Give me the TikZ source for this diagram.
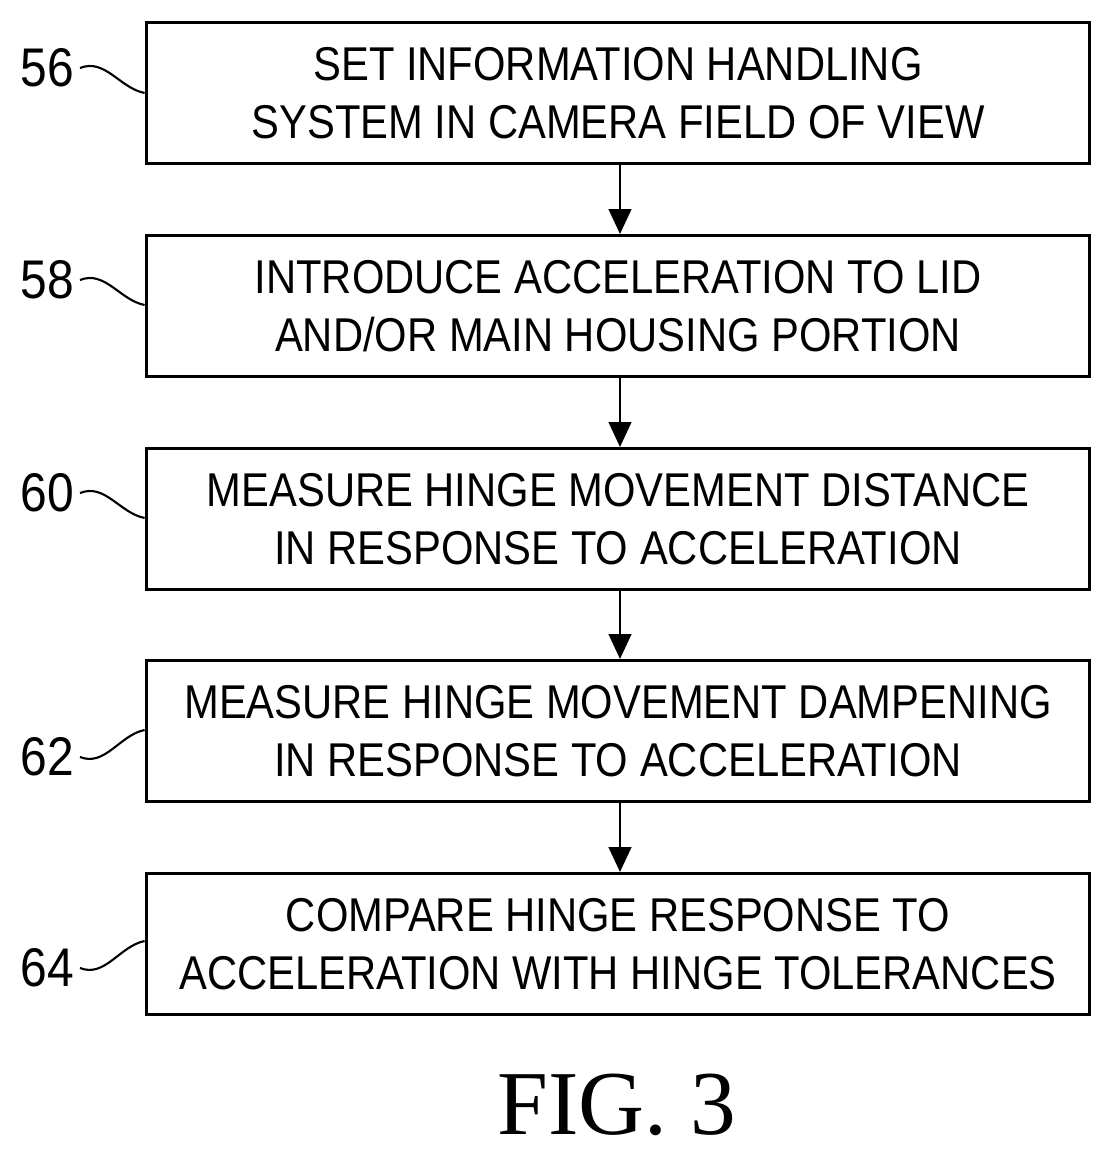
\documentclass[tikz,border=0pt]{standalone}
\usepackage{fontspec}
\setmainfont{Liberation Sans}
\newfontfamily\boxfont[FakeStretch=0.88]{Liberation Sans}
\newfontfamily\figfont{Liberation Serif}
\usetikzlibrary{arrows.meta,positioning}
\tikzset{
    stepbox/.style={draw, line width=1.7pt, minimum width=18.88cm, minimum height=2.82cm,
        align=center, font=\boxfont\fontsize{27}{33}\selectfont, inner sep=0pt},
    flow/.style={-{Triangle[length=0.5cm,width=0.45cm]}, line width=1.7pt},
    lead/.style={line width=1.2pt},
    num/.style={font=\boxfont\fontsize{31}{31}\selectfont, anchor=east}
}
\begin{document}
\begin{tikzpicture}[x=0.02cm,y=-0.02cm]
    \useasboundingbox (0,0) rectangle (1115,1154);
    % Draw steps
    \node[stepbox] (s56) at (618,93) {SET INFORMATION HANDLING\\SYSTEM IN CAMERA FIELD OF VIEW};
    \node[stepbox] (s58) at (618,306) {INTRODUCE ACCELERATION TO LID\\AND/OR MAIN HOUSING PORTION};
    \node[stepbox] (s60) at (618,519) {MEASURE HINGE MOVEMENT DISTANCE\\IN RESPONSE TO ACCELERATION};
    \node[stepbox] (s62) at (618,731) {MEASURE HINGE MOVEMENT DAMPENING\\IN RESPONSE TO ACCELERATION};
    \node[stepbox] (s64) at (618,944) {COMPARE HINGE RESPONSE TO\\ACCELERATION WITH HINGE TOLERANCES};

    % Arrows between steps
    \foreach \a/\b in {s56/s58, s58/s60, s60/s62, s62/s64} {
        \draw[flow] (\a.south -| 620,0) -- (\b.north -| 620,0);
    }

    % Reference numerals
    \node[num] (n56) at (80,68) {56};
    \node[num] (n58) at (80,280) {58};
    \node[num] (n60) at (80,493) {60};
    \node[num] (n62) at (80,757) {62};
    \node[num] (n64) at (80,968) {64};
    \foreach \n/\s in {56/s56, 58/s58, 60/s60} {
        \draw[lead] (n\n.east) .. controls +(25,-10) and +(-25,-5) .. ([yshift=-0.5cm]n\n.east -| \s.west);
    }
    \foreach \n/\s in {62/s62, 64/s64} {
        \draw[lead] (n\n.east) .. controls +(25,10) and +(-25,5) .. ([yshift=0.54cm]n\n.east -| \s.west);
    }

    \node[font=\figfont\fontsize{52}{52}\selectfont] (fig) at (617,1105) {FIG. 3};
\end{tikzpicture}
\end{document}
